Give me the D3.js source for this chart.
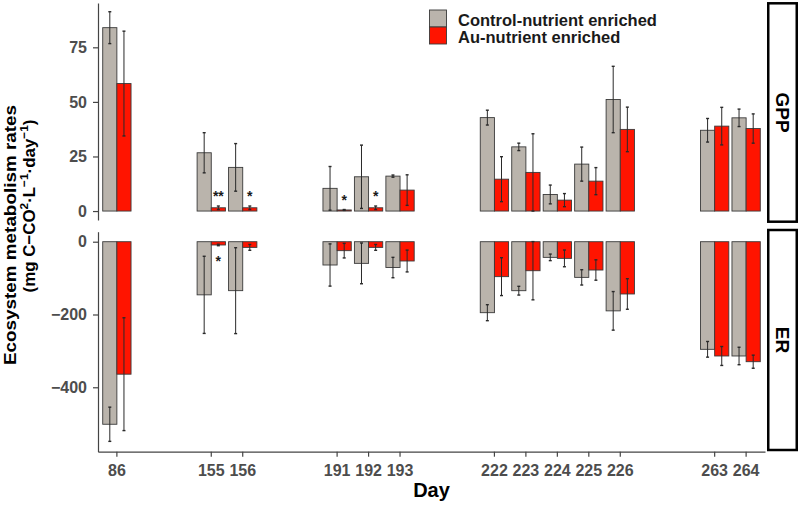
<!DOCTYPE html>
<html><head><meta charset="utf-8">
<script src="https://cdn.jsdelivr.net/npm/d3@7"></script>
<style>
body{margin:0;background:#fff}
svg{display:block}
text{font-family:"Liberation Sans",Arial,Helvetica,sans-serif;font-weight:bold}
</style>
</head><body>
<svg id="c" width="800" height="508"></svg>
<script>
// ---- data ----
const dayGroups = [["86"],["155","156"],["191","192","193"],["222","223","224","225","226"],["263","264"]];
const days = dayGroups.flat();
const seriesNames = ["Control-nutrient enriched","Au-nutrient enriched"];
const facetLabels = ["GPP","ER"];

const gppControl    = [84, 26.7, 20, 10.4, 15.7, 16, 42.8, 29.4, 7.6, 21.5, 51.1, 37, 42.7];
const gppControlErr = [7.3, 9.2, 10.9, 10, 14.5, 0.5, 3.4, 1.7, 4.3, 7.8, 15.2, 5.4, 4];
const gppAu         = [58.4, 1.5, 1.5, 0.5, 1.5, 9.6, 14.6, 17.7, 5, 13.7, 37.4, 38.9, 37.8];
const gppAuErr      = [24, 0.8, 0.8, 0.2, 0.8, 7, 10.3, 17.7, 3, 6.2, 10.2, 8.6, 6.7];
const gppSig        = ["", "**", "*", "*", "*", "", "", "", "", "", "", "", ""];

const erControl     = [-501.6, -146, -134.5, -64, -59.5, -71, -195, -134.6, -43, -98, -190, -295.7, -314];
const erControlErr  = [47, 106, 118, 58, 56, 28, 22, 12, 9, 21, 53, 21.5, 24];
const erAu          = [-364, -9, -15.6, -24.6, -15.6, -53, -96, -79.7, -45.8, -77.8, -143.6, -314, -329.7];
const erAuErr       = [155, 2, 8, 20, 8, 30, 52, 80, 23, 28, 42, 26, 18];
const erSig         = ["", "*", "", "", "", "", "", "", "", "", "", "", ""];

const gppTicks = [0, 25, 50, 75];
const erTicks  = [0, -200, -400];

// ---- layout ----
const colors = ["#bab4ac", "#ff1400"];
const axisColor = "#444";
const labelColor = "#4d4d4d";
const X0 = 98, X1 = 765;

// slots with two empty positions between day groups
const slots = [];
dayGroups.forEach((g, i) => {
  if (i > 0) { slots.push("gap" + i + "a"); slots.push("gap" + i + "b"); }
  g.forEach(d => slots.push(d));
});

const svg = d3.select("#c");
const x = d3.scaleBand().domain(slots).range([X0, X1]).paddingInner(0.1).paddingOuter(0.15);
const xs = d3.scaleBand().domain(seriesNames).range([0, x.bandwidth()]);

const panels = [
  {label: facetLabels[0], ctrl: gppControl, ctrlErr: gppControlErr, au: gppAu, auErr: gppAuErr, sig: gppSig,
   ticks: gppTicks, domain: [-4.1, 95.3], range: [220, 3], strip: [3.3, 221.7]},
  {label: facetLabels[1], ctrl: erControl, ctrlErr: erControlErr, au: erAu, auErr: erAuErr, sig: erSig,
   ticks: erTicks, domain: [-577, 27.5], range: [451.7, 231.7], strip: [230, 450]}
];

panels.forEach((p, pi) => {
  const y = d3.scaleLinear().domain(p.domain).range(p.range);
  const g = svg.append("g");
  const rows = days.map((d, i) => ({day: d, vals: [p.ctrl[i], p.au[i]], errs: [p.ctrlErr[i], p.auErr[i]], sig: p.sig[i]}));

  // bars
  rows.forEach(r => {
    r.vals.forEach((v, si) => {
      const bx = x(r.day) + xs(seriesNames[si]);
      g.append("rect")
        .attr("x", bx).attr("width", xs.bandwidth())
        .attr("y", y(Math.max(0, v))).attr("height", Math.abs(y(v) - y(0)))
        .attr("fill", colors[si]).attr("stroke", "#3a3a3a").attr("stroke-width", 0.9);
    });
  });
  // error bars
  rows.forEach(r => {
    r.vals.forEach((v, si) => {
      const cx = x(r.day) + xs(seriesNames[si]) + xs.bandwidth() / 2;
      const lo = y(v - r.errs[si]), hi = y(v + r.errs[si]);
      g.append("line").attr("x1", cx).attr("x2", cx).attr("y1", lo).attr("y2", hi)
        .attr("stroke", "#2a2a2a").attr("stroke-width", 1);
      [lo, hi].forEach(yy => g.append("line").attr("x1", cx - 1.5).attr("x2", cx + 1.5)
        .attr("y1", yy).attr("y2", yy).attr("stroke", "#2a2a2a").attr("stroke-width", 1.4));
    });
  });
  // significance marks
  rows.forEach(r => {
    if (!r.sig) return;
    const cx = x(r.day) + xs(seriesNames[1]) + xs.bandwidth() / 2;
    const v = r.vals[1], e = r.errs[1];
    const ty = pi === 0 ? y(v + e) - 5 : y(v - e) + 20;
    g.append("text").attr("x", cx).attr("y", ty).attr("text-anchor", "middle")
      .attr("font-size", 14).attr("fill", "#1a1a1a").text(r.sig);
  });

  // y axis
  const ya = g.append("g").attr("transform", `translate(${X0},0)`)
    .call(d3.axisLeft(y).tickValues(p.ticks).tickSize(5).tickSizeOuter(0).tickPadding(6));
  ya.select(".domain").attr("stroke", axisColor).attr("stroke-width", 1.2);
  ya.selectAll(".tick line").attr("stroke", axisColor).attr("stroke-width", 1.2);
  ya.selectAll(".tick text").attr("font-size", 16).attr("font-family", '"Liberation Sans",Arial,sans-serif')
    .attr("font-weight", "bold").attr("fill", labelColor);

  // strip
  const sx = 767, sw = 31;
  g.append("rect").attr("x", sx + 1.25).attr("y", p.strip[0]).attr("width", sw - 2.5)
    .attr("height", p.strip[1] - p.strip[0]).attr("fill", "#fff").attr("stroke", "#000").attr("stroke-width", 2.5);
  const scx = sx + sw / 2, scy = (p.strip[0] + p.strip[1]) / 2;
  g.append("text").attr("transform", `translate(${scx},${scy}) rotate(90)`)
    .attr("text-anchor", "middle").attr("dy", "0.36em").attr("font-size", 19).attr("fill", "#000").text(p.label);

  // x axis on bottom panel
  if (pi === 1) {
    const xa = svg.append("g").attr("transform", `translate(0,${p.range[0]})`)
      .call(d3.axisBottom(x).tickValues(days).tickSize(5).tickSizeOuter(0).tickPadding(7.5));
    xa.select(".domain").attr("stroke", axisColor).attr("stroke-width", 1.2);
    xa.selectAll(".tick line").attr("stroke", axisColor).attr("stroke-width", 1.2);
    xa.selectAll(".tick text").attr("font-size", 16).attr("font-family", '"Liberation Sans",Arial,sans-serif')
      .attr("font-weight", "bold").attr("fill", labelColor);
  }
});

// axis titles
svg.append("text").attr("x", (X0 + X1) / 2).attr("y", 497).attr("text-anchor", "middle")
  .attr("font-size", 20).attr("fill", "#000").text("Day");

svg.append("text").attr("transform", "translate(16,235) rotate(-90)")
  .attr("text-anchor", "middle").attr("font-size", 17).attr("fill", "#000")
  .attr("textLength", 260).attr("lengthAdjust", "spacingAndGlyphs").text("Ecosystem metabolism rates");

const t2 = svg.append("text").attr("transform", "translate(35,206) rotate(-90)")
  .attr("text-anchor", "middle").attr("fill", "#000");
const parts = [["(mg C\u2212CO", 0], ["2", 1], ["\u00B7L", 0], ["\u22121", 1], ["\u00B7day", 0], ["\u22121", 1], [")", 0]];
function buildT2(fs) {
  t2.selectAll("tspan").remove();
  t2.attr("font-size", fs);
  let prevSup = false;
  parts.forEach(([s, sup]) => {
    const ts = t2.append("tspan").text(s);
    if (sup) { ts.attr("font-size", fs * 0.7).attr("dy", prevSup ? 0 : -fs * 0.42); }
    else if (prevSup) { ts.attr("dy", fs * 0.42); }
    prevSup = !!sup;
  });
}
buildT2(16);
const len = t2.node().getComputedTextLength();
buildT2(16 * 173 / len);

// legend
const lg = svg.append("g");
seriesNames.forEach((n, i) => {
  lg.append("rect").attr("x", 429.5).attr("y", 10 + i * 17).attr("width", 17).attr("height", 17)
    .attr("fill", colors[i]).attr("stroke", "#3a3a3a").attr("stroke-width", 0.9);
  lg.append("text").attr("x", 458).attr("y", 26 + i * 17).attr("font-size", 16.5).attr("fill", "#1a1a1a").text(n);
});
</script>
</body></html>
